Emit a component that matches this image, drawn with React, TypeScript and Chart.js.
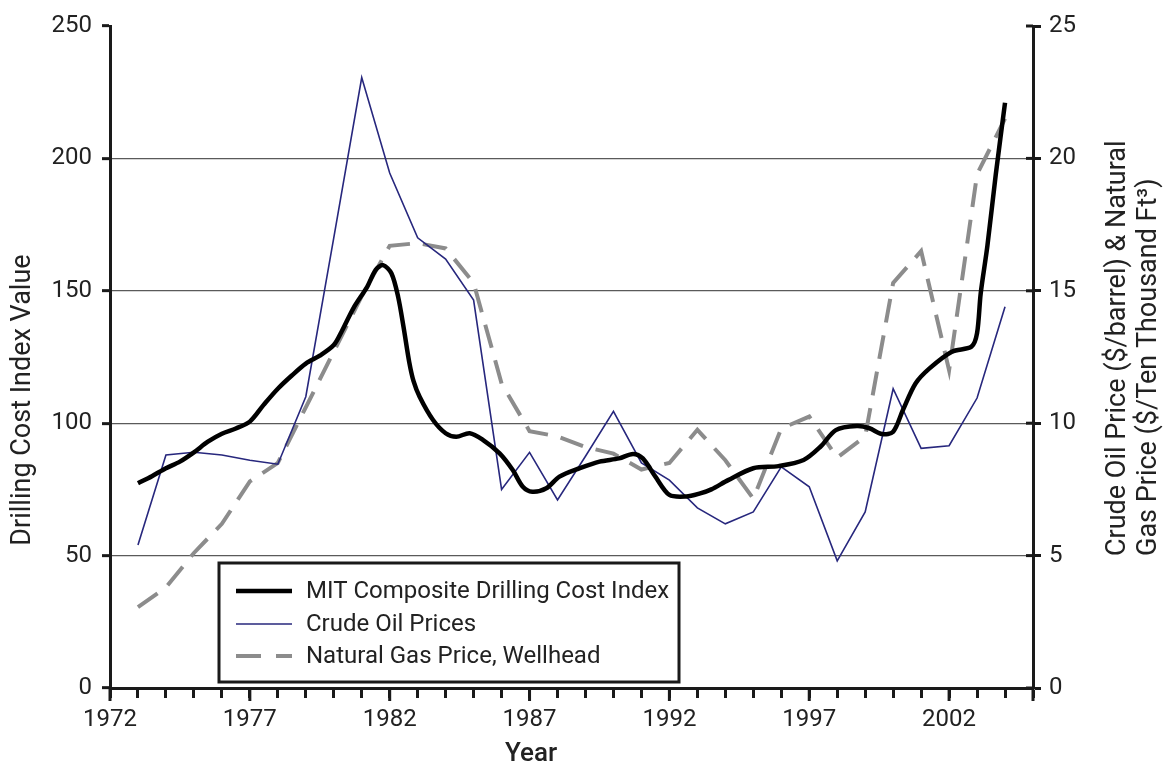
import React, { useEffect, useRef } from "react";
import { Chart, registerables } from "chart.js";

Chart.register(...registerables);

// ---- Data ----
const priceYears = [
  1973, 1974, 1975, 1976, 1977, 1978, 1979, 1980, 1981, 1982, 1983, 1984, 1985, 1986, 1987, 1988,
  1989, 1990, 1991, 1992, 1993, 1994, 1995, 1996, 1997, 1998, 1999, 2000, 2001, 2002, 2003, 2004,
];
const crudeOilPrices = [
  5.4, 8.8, 8.9, 8.8, 8.6, 8.45, 11.0, 17.0, 23.05, 19.45, 17.0, 16.2, 14.65, 7.5, 8.9, 7.1,
  8.75, 10.45, 8.5, 7.85, 6.8, 6.2, 6.65, 8.35, 7.6, 4.8, 6.65, 11.3, 9.05, 9.15, 10.95, 14.4,
];
const naturalGasPrices = [
  3.05, 3.8, 5.1, 6.2, 7.8, 8.5, 10.6, 12.7, 14.8, 16.7, 16.8, 16.6, 15.3, 11.5, 9.7, 9.5,
  9.1, 8.85, 8.25, 8.5, 9.75, 8.6, 7.15, 9.8, 10.25, 8.7, 9.5, 15.3, 16.5, 12.0, 19.4, 21.5,
];
const mitIndexYears = [
  1973.0, 1973.5, 1974.0, 1974.5, 1975.0, 1975.5, 1976.0, 1976.5, 1977.0, 1977.5, 1978.0, 1978.5,
  1979.0, 1979.5, 1980.0, 1980.3, 1980.7, 1981.2, 1981.5, 1981.76, 1982.06, 1982.3, 1982.5, 1982.7,
  1982.85, 1983.07, 1983.55, 1984.0, 1984.38, 1984.86, 1985.33, 1985.93, 1986.4, 1986.76, 1987.1,
  1987.6, 1988.07, 1988.8, 1989.5, 1990.2, 1990.7, 1991.05, 1991.5, 1992.0, 1992.6, 1993.1, 1993.5,
  1994.1, 1995.0, 1995.9, 1996.8, 1997.4, 1997.95, 1998.7, 1999.15, 1999.6, 2000.0, 2000.35,
  2000.8, 2001.3, 2002.1, 2002.8, 2003.0, 2003.13, 2003.37, 2003.67, 2004.0,
];
const mitIndexValues = [
  77.3, 80, 83, 85.5, 89, 93, 96, 98, 100.6, 107, 113, 118,
  122.5, 125.5, 129.5, 135, 143.4, 151.6, 157.9, 159.7, 156.6, 147.8, 136, 123,
  116, 110, 101.2, 96.2, 94.9, 96.2, 93.7, 88.6, 82.3, 76, 74.1,
  75.4, 79.8, 83, 85.5, 86.7, 88.4, 86.7, 79.8, 72.9, 72.3, 73.5, 75,
  78.5, 83, 83.8, 86.1, 91.1, 97.4, 98.9, 98.1, 95.9, 96.8, 105,
  115, 120.7, 127, 128.9, 134, 149, 167, 194, 221,
];
const xLabelYears = [1972, 1977, 1982, 1987, 1992, 1997, 2002];
const leftAxisTicks = [0, 50, 100, 150, 200, 250];
const rightAxisTicks = [0, 5, 10, 15, 20, 25];

const seriesNames = [
  "MIT Composite Drilling Cost Index",
  "Crude Oil Prices",
  "Natural Gas Price, Wellhead",
];

const FONT = "Roboto, 'Liberation Sans', sans-serif";
const AXIS = "#1a1a1a";
const TEXT = "#222222";
const BLUE = "#27277d";
const GRAY = "#8c8c8c";

const decorPlugin = {
  id: "decor",
  afterDraw(chart: any) {
    const ctx = chart.ctx as CanvasRenderingContext2D;
    const x = chart.scales.x;
    const y1 = chart.scales.y1;
    const area = chart.chartArea;
    ctx.save();
    // longer major x ticks
    ctx.strokeStyle = AXIS;
    ctx.lineWidth = 3;
    [...xLabelYears, 2005].forEach((yr) => {
      const px = x.getPixelForValue(yr);
      ctx.beginPath();
      ctx.moveTo(px, area.bottom);
      ctx.lineTo(px, area.bottom + 13);
      ctx.stroke();
    });
    // right axis inner ticks (crossing)
    rightAxisTicks.forEach((v) => {
      const py = y1.getPixelForValue(v);
      ctx.beginPath();
      ctx.moveTo(area.right - 7, py);
      ctx.lineTo(area.right, py);
      ctx.stroke();
    });

    // axis titles
    ctx.fillStyle = TEXT;
    ctx.font = `500 26px ${FONT}`;
    ctx.textAlign = "center";
    ctx.textBaseline = "middle";
    ctx.fillText("Year", 531, 754);

    ctx.font = `27px ${FONT}`;
    ctx.save();
    ctx.translate(23, 400);
    ctx.rotate(-Math.PI / 2);
    ctx.fillText("Drilling Cost Index Value", 0, 0);
    ctx.restore();

    ctx.font = `27px ${FONT}`;
    ctx.save();
    ctx.translate(1118, 556);
    ctx.rotate(-Math.PI / 2);
    ctx.textAlign = "left";
    ctx.fillText("Crude Oil Price ($/barrel) & Natural", 0, 0);
    ctx.fillText("Gas Price ($/Ten Thousand Ft\u00B3)", 0, 31);
    ctx.restore();

    // legend box
    const bx = 219, by = 563, bw = 460, bh = 119;
    ctx.fillStyle = "#ffffff";
    ctx.fillRect(bx, by, bw, bh);
    ctx.strokeStyle = AXIS;
    ctx.lineWidth = 3;
    ctx.strokeRect(bx, by, bw, bh);

    const ds = chart.data.datasets;
    const rows = [591, 624, 656];
    ctx.font = `24px ${FONT}`;
    ctx.textAlign = "left";
    ctx.textBaseline = "middle";
    rows.forEach((ry, i) => {
      const d = ds[i];
      ctx.save();
      ctx.strokeStyle = d.borderColor;
      ctx.lineWidth = d.borderWidth;
      ctx.setLineDash(i === 2 ? [25, 15] : []);
      ctx.beginPath();
      ctx.moveTo(236, ry);
      ctx.lineTo(292, ry);
      ctx.stroke();
      ctx.restore();
      ctx.fillStyle = TEXT;
      ctx.fillText(seriesNames[i], 306, ry + 1);
    });
    ctx.restore();
  },
};

export default function App() {
  const ref = useRef<HTMLCanvasElement | null>(null);

  useEffect(() => {
    document.body.style.margin = "0";
    const canvas = ref.current;
    if (!canvas) return;
    const tickFont = { family: FONT, size: 24 };
    const chart = new Chart(canvas, {
      type: "line",
      data: {
        datasets: [
          {
            label: seriesNames[0],
            data: mitIndexYears.map((yr, i) => ({ x: yr, y: mitIndexValues[i] })),
            borderColor: "#000000",
            borderWidth: 4.5,
            pointRadius: 0,
            tension: 0.3,
            yAxisID: "y",
            order: 0,
          },
          {
            label: seriesNames[1],
            data: priceYears.map((yr, i) => ({ x: yr, y: crudeOilPrices[i] })),
            borderColor: BLUE,
            borderWidth: 1.6,
            pointRadius: 0,
            tension: 0,
            yAxisID: "y1",
            order: 1,
          },
          {
            label: seriesNames[2],
            data: priceYears.map((yr, i) => ({ x: yr, y: naturalGasPrices[i] })),
            borderColor: GRAY,
            borderWidth: 4,
            borderDash: [24, 13],
            pointRadius: 0,
            tension: 0,
            yAxisID: "y1",
            order: 2,
          },
        ],
      },
      options: {
        animation: false,
        responsive: false,
        devicePixelRatio: 1,
        layout: { padding: { top: 26, left: 0, right: 0, bottom: 0 } },
        plugins: { legend: { display: false }, tooltip: { enabled: false } },
        scales: {
          x: {
            type: "linear",
            min: 1972,
            max: 2005,
            ticks: {
              stepSize: 1,
              autoSkip: false,
              maxRotation: 0,
              color: TEXT,
              font: tickFont,
              padding: 8,
              callback: (v: any) => (xLabelYears.includes(Number(v)) ? String(v) : ""),
            },
            grid: {
              drawOnChartArea: false,
              tickLength: 10,
              tickWidth: 3,
              tickColor: AXIS,
              color: AXIS,
            },
            border: { display: true, width: 3, color: AXIS },
            afterFit: (s: any) => {
              s.height = 79;
            },
          },
          y: {
            position: "left",
            min: 0,
            max: 250,
            afterBuildTicks: (s: any) => {
              s.ticks = leftAxisTicks.map((v) => ({ value: v }));
            },
            ticks: { color: TEXT, font: tickFont, padding: 10 },
            grid: {
              color: (c: any) =>
                c.tick && (c.tick.value === 0 || c.tick.value === 250) ? "rgba(0,0,0,0)" : "#5a5a5a",
              lineWidth: 1.3,
              tickLength: 8,
              tickWidth: 3,
              tickColor: AXIS,
            },
            border: { display: true, width: 3, color: AXIS },
            afterFit: (s: any) => {
              s.width = 110;
            },
          },
          y1: {
            position: "right",
            min: 0,
            max: 25,
            afterBuildTicks: (s: any) => {
              s.ticks = rightAxisTicks.map((v) => ({ value: v }));
            },
            ticks: { color: TEXT, font: tickFont, padding: 8 },
            grid: {
              drawOnChartArea: false,
              tickLength: 8,
              tickWidth: 3,
              tickColor: AXIS,
              color: AXIS,
            },
            border: { display: true, width: 3, color: AXIS },
            afterFit: (s: any) => {
              s.width = 140;
            },
          },
        },
      },
      plugins: [decorPlugin],
    } as any);
    return () => chart.destroy();
  }, []);

  return (
    <div style={{ width: 1173, height: 767 }}>
      <canvas ref={ref} width={1173} height={767} style={{ display: "block" }} />
    </div>
  );
}
